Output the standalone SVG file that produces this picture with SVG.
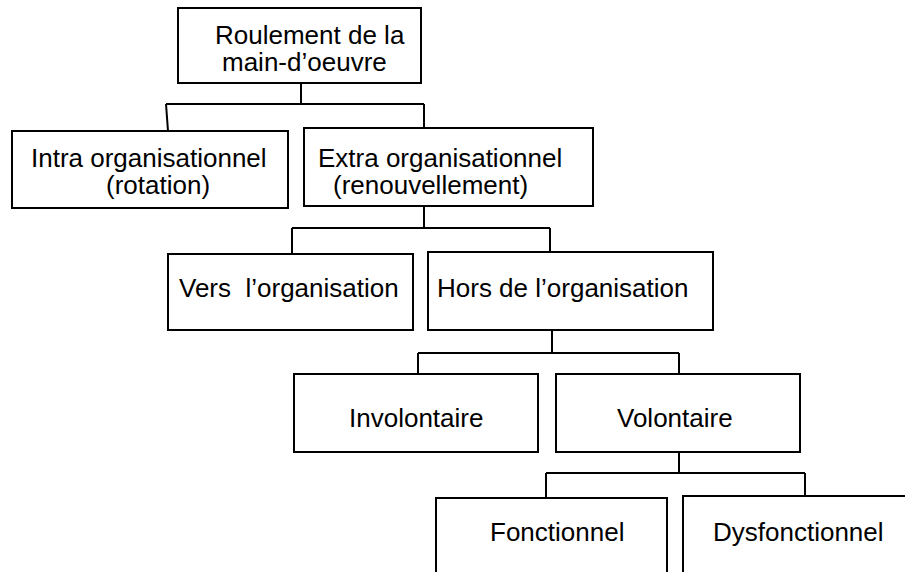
<svg xmlns="http://www.w3.org/2000/svg" width="905" height="572" viewBox="0 0 905 572">
<style>
.box{fill:#fff;stroke:#000;stroke-width:2}
.ln{fill:none;stroke:#000;stroke-width:2}
text{font-family:"Liberation Sans",Arial,sans-serif;font-size:26px;fill:#000}
</style>
<rect width="905" height="572" fill="#fff"/>
<g id="connectors">
<path class="ln" d="M301,83 V104 M166,104 H424 M166,104 L168,131 M424,104 V128"/>
<path class="ln" d="M424,206 V228 M292,228 H550 M292,228 V254 M550,228 V252"/>
<path class="ln" d="M552,330 V353 M418,353 H679 M418,353 V374 M679,353 V374"/>
<path class="ln" d="M679,452 V473 M546,473 H805 M546,473 V498 M805,473 V496"/>
</g>
<g id="root"><rect class="box" x="178" y="8" width="243" height="75"/>
<text x="215" y="44">Roulement de la</text><text x="222" y="71">main-d’oeuvre</text></g>
<g id="intra"><rect class="box" x="12" y="131" width="276" height="77"/>
<text x="31" y="167">Intra organisationnel</text><text x="106" y="194">(rotation)</text></g>
<g id="extra"><rect class="box" x="304" y="128" width="289" height="78"/>
<text x="318" y="167">Extra organisationnel</text><text x="333" y="194">(renouvellement)</text></g>
<g id="vers"><rect class="box" x="168" y="254" width="245" height="76"/>
<text x="179" y="297" xml:space="preserve">Vers  l’organisation</text></g>
<g id="hors"><rect class="box" x="428" y="252" width="285" height="78"/>
<text x="437" y="297">Hors de l’organisation</text></g>
<g id="involontaire"><rect class="box" x="294" y="374" width="244" height="78"/>
<text x="349" y="427">Involontaire</text></g>
<g id="volontaire"><rect class="box" x="556" y="374" width="244" height="78"/>
<text x="617" y="427">Volontaire</text></g>
<g id="fonctionnel"><path class="box" d="M436,580 V498 H667 V580"/>
<text x="490" y="541">Fonctionnel</text></g>
<g id="dysfonctionnel"><path class="box" d="M683,580 V496 H910"/>
<text x="713" y="541">Dysfonctionnel</text></g>
</svg>
